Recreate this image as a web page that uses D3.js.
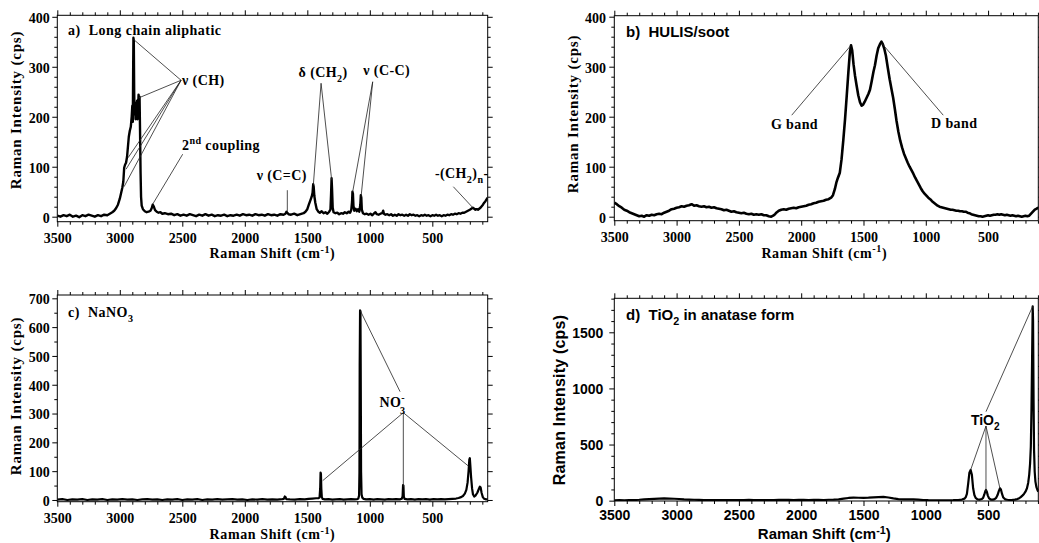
<!DOCTYPE html>
<html>
<head>
<meta charset="utf-8">
<script src="https://cdn.jsdelivr.net/npm/d3@7"></script>
<style>
  html, body { margin: 0; padding: 0; background: #fff; }
  svg { display: block; }
  text { white-space: pre; }
</style>
</head>
<body>
<svg id="chart" width="1039" height="543"></svg>
<script>
// ---------- Data: Raman shift (cm-1) vs intensity (cps) ----------
const shiftTicks = [3500, 3000, 2500, 2000, 1500, 1000, 500];
const aliphaticTicks = [0, 100, 200, 300, 400];
const sootTicks = [0, 100, 200, 300, 400];
const nitrateTicks = [0, 100, 200, 300, 400, 500, 600, 700];
const anataseTicks = [0, 500, 1000, 1500];

// a) long chain aliphatic
const aliphatic = [
[3500,2],[3475,0],[3450,3],[3425,1],[3400,4],[3375,0],[3350,2],[3325,-1],[3300,3],[3275,1],[3250,4],[3225,2],[3200,0],[3175,3],[3150,1],[3125,4],[3100,3],[3080,6],[3060,9],[3045,12],[3030,17],[3015,24],[3000,36],[2990,47],[2980,58],[2972,70],[2965,98],[2958,104],[2950,108],[2942,120],[2935,140],[2928,160],[2920,172],[2912,180],[2905,200],[2900,222],[2896,190],[2893,300],[2891,358],[2888,352],[2885,250],[2882,205],[2878,228],[2874,195],[2870,218],[2866,200],[2862,232],[2858,195],[2854,215],[2850,244],[2846,236],[2842,240],[2838,170],[2834,90],[2830,40],[2825,22],[2815,15],[2800,11],[2785,9],[2770,10],[2755,12],[2745,17],[2737,24],[2728,20],[2718,13],[2705,10],[2690,8],[2675,9],[2660,6],[2640,7],[2615,5],[2590,6],[2565,3],[2540,5],[2515,2],[2490,4],[2465,2],[2440,5],[2415,3],[2390,1],[2365,4],[2340,2],[2315,5],[2290,2],[2265,4],[2240,1],[2215,3],[2190,2],[2165,4],[2140,1],[2115,3],[2090,2],[2065,4],[2040,2],[2015,5],[1990,3],[1965,4],[1940,2],[1915,5],[1890,3],[1865,4],[1840,2],[1815,5],[1790,3],[1765,4],[1740,2],[1715,5],[1690,4],[1675,6],[1667,10],[1660,8],[1650,5],[1630,4],[1605,6],[1580,3],[1555,5],[1530,7],[1515,10],[1500,15],[1488,24],[1475,33],[1465,40],[1458,48],[1453,65],[1449,60],[1444,42],[1436,28],[1425,15],[1412,10],[1400,8],[1385,11],[1370,7],[1355,9],[1340,6],[1325,10],[1315,14],[1310,45],[1306,77],[1302,55],[1297,18],[1290,9],[1275,7],[1260,8],[1245,5],[1230,7],[1215,6],[1200,9],[1185,7],[1170,10],[1158,8],[1148,14],[1142,30],[1139,50],[1135,46],[1131,22],[1124,12],[1114,16],[1104,11],[1094,15],[1084,10],[1076,24],[1072,43],[1068,38],[1064,14],[1055,7],[1040,5],[1025,6],[1010,4],[995,6],[980,3],[965,7],[955,9],[945,5],[930,4],[915,6],[900,7],[893,12],[887,6],[875,4],[860,5],[845,3],[830,5],[815,2],[800,4],[785,2],[770,5],[755,3],[740,4],[725,2],[710,4],[695,2],[680,5],[665,3],[650,4],[635,2],[620,3],[605,1],[590,3],[575,2],[560,4],[545,2],[530,3],[515,1],[500,3],[485,2],[470,4],[455,2],[440,3],[425,1],[410,3],[395,2],[380,4],[365,3],[350,5],[335,4],[320,6],[305,5],[290,7],[275,6],[260,8],[245,8],[230,10],[215,12],[200,14],[188,16],[176,18],[165,16],[155,14],[145,15],[135,14],[125,16],[115,18],[105,21],[95,24],[85,28],[75,31],[65,35],[57,38]
];

// b) HULIS / soot
const soot = [
[3500,28],[3480,25],[3460,21],[3440,18],[3420,14],[3400,12],[3380,9],[3360,7],[3340,5],[3320,3],[3300,1],[3280,2],[3260,0],[3240,3],[3220,2],[3200,4],[3180,3],[3160,5],[3140,6],[3120,5],[3100,8],[3080,10],[3060,12],[3040,15],[3020,16],[3000,18],[2980,19],[2960,21],[2940,20],[2920,22],[2900,23],[2880,25],[2860,22],[2840,23],[2820,21],[2800,20],[2780,21],[2760,19],[2740,20],[2720,18],[2700,19],[2680,17],[2660,16],[2640,15],[2620,13],[2600,14],[2580,12],[2560,10],[2540,11],[2520,9],[2500,8],[2480,7],[2460,8],[2440,6],[2420,5],[2400,6],[2380,4],[2360,5],[2340,4],[2320,5],[2300,3],[2280,3],[2260,1],[2240,0],[2225,2],[2210,5],[2195,9],[2180,12],[2160,14],[2140,15],[2120,14],[2100,16],[2080,17],[2060,18],[2040,17],[2020,19],[2000,20],[1980,21],[1960,22],[1940,24],[1920,25],[1900,27],[1880,28],[1860,30],[1840,31],[1820,32],[1800,34],[1780,35],[1760,38],[1745,43],[1730,55],[1718,68],[1705,78],[1690,88],[1676,115],[1662,153],[1648,195],[1635,240],[1621,290],[1609,330],[1600,343],[1591,333],[1580,305],[1568,282],[1555,262],[1542,243],[1528,229],[1515,222],[1503,224],[1490,230],[1475,238],[1460,246],[1448,254],[1435,270],[1420,290],[1408,303],[1395,322],[1382,337],[1368,345],[1356,350],[1345,345],[1332,335],[1320,322],[1305,298],[1290,275],[1275,255],[1262,238],[1248,215],[1235,192],[1220,170],[1205,152],[1190,138],[1175,126],[1160,117],[1145,108],[1130,100],[1115,93],[1100,86],[1085,78],[1070,71],[1055,64],[1040,57],[1025,51],[1010,46],[995,42],[980,38],[965,35],[950,31],[935,28],[920,25],[905,22],[890,20],[875,19],[860,18],[845,17],[830,16],[815,15],[800,14],[785,14],[770,13],[755,12],[740,12],[725,11],[710,11],[695,10],[680,10],[665,8],[650,7],[635,5],[620,4],[605,3],[590,2],[575,1],[560,1],[545,0],[530,1],[515,2],[500,3],[485,2],[470,3],[455,4],[440,4],[425,5],[410,4],[395,5],[380,4],[365,3],[350,4],[335,3],[320,2],[305,3],[290,2],[275,1],[260,2],[245,1],[230,0],[215,1],[200,2],[185,1],[170,2],[155,6],[140,10],[125,14],[110,16],[97,18]
];

// c) NaNO3
const nitrate = [
[3500,1],[3460,3],[3420,0],[3380,2],[3340,1],[3300,3],[3260,0],[3220,2],[3180,1],[3140,3],[3100,0],[3060,2],[3020,1],[2980,3],[2940,1],[2900,2],[2860,0],[2820,2],[2780,3],[2740,1],[2700,2],[2660,0],[2620,2],[2580,1],[2540,3],[2500,0],[2460,2],[2420,1],[2380,3],[2340,0],[2300,2],[2260,1],[2220,3],[2180,1],[2140,2],[2100,3],[2060,1],[2020,2],[1980,0],[1940,2],[1900,1],[1860,3],[1820,1],[1780,2],[1740,1],[1700,3],[1688,4],[1680,12],[1674,10],[1668,3],[1640,2],[1600,1],[1560,3],[1520,2],[1490,4],[1460,5],[1430,6],[1410,6],[1402,9],[1397,40],[1394,95],[1391,90],[1388,40],[1384,10],[1378,4],[1360,2],[1330,3],[1300,1],[1270,2],[1240,3],[1210,1],[1180,2],[1150,3],[1120,2],[1100,3],[1092,5],[1086,15],[1083,95],[1081,470],[1078,658],[1075,655],[1073,470],[1070,100],[1066,20],[1060,8],[1050,4],[1030,2],[1000,3],[970,1],[940,3],[910,2],[880,1],[850,3],[820,2],[790,3],[760,2],[745,4],[738,12],[734,52],[731,50],[728,12],[722,4],[700,2],[670,3],[640,1],[610,3],[580,2],[550,3],[520,1],[490,3],[460,2],[430,3],[400,2],[370,3],[340,4],[310,5],[290,7],[270,10],[255,14],[240,22],[228,35],[218,60],[210,100],[204,140],[200,145],[196,120],[190,80],[182,40],[175,20],[165,12],[155,15],[140,25],[128,38],[120,46],[114,44],[106,25],[96,10],[85,4],[70,2],[57,2]
];

// d) TiO2 (anatase)
const anatase = [
[3500,2],[3460,4],[3420,3],[3380,5],[3340,6],[3300,8],[3260,11],[3220,14],[3180,16],[3140,18],[3100,20],[3060,19],[3020,17],[2980,15],[2940,12],[2900,10],[2860,8],[2820,7],[2780,6],[2740,5],[2700,6],[2660,4],[2620,5],[2580,6],[2540,4],[2500,5],[2460,6],[2420,7],[2380,6],[2340,5],[2300,4],[2260,6],[2220,5],[2180,7],[2140,8],[2100,7],[2060,6],[2020,8],[1980,7],[1940,6],[1900,8],[1860,7],[1820,6],[1780,8],[1740,9],[1700,12],[1660,18],[1620,24],[1580,27],[1540,26],[1500,25],[1460,27],[1420,30],[1380,32],[1340,33],[1300,28],[1260,20],[1220,14],[1180,12],[1140,11],[1100,12],[1060,10],[1020,6],[980,4],[940,3],[900,2],[860,2],[820,3],[780,4],[740,6],[710,10],[690,18],[680,30],[670,60],[660,150],[650,250],[640,274],[630,230],[620,110],[610,50],[600,25],[585,12],[565,10],[550,15],[540,25],[530,55],[522,85],[517,95],[510,80],[502,45],[492,20],[478,10],[462,9],[448,14],[435,25],[424,50],[414,85],[405,110],[397,100],[388,60],[378,28],[362,12],[345,8],[325,6],[305,7],[285,9],[265,14],[250,22],[238,32],[225,45],[212,60],[200,80],[188,110],[178,160],[170,230],[163,330],[157,480],[152,800],[147,1250],[142,1732],[139,1600],[135,900],[131,450],[126,260],[120,170],[112,120],[104,95],[97,80]
];

// ---------- Drawing ----------
const svg = d3.select('#chart');
const serif = "'Liberation Serif','Times New Roman',serif";
const sans = "'Liberation Sans',Arial,sans-serif";

// Writes a list of text runs (normal / sub / sup) into a <text> element.
function richText(sel, parts, size, supRaise) {
  const raise = supRaise || 0.42;
  let shift = 0;
  parts.forEach(pt => {
    const target = pt.sub ? size * (pt.subDy || 0.36) : pt.sup ? -size * raise : 0;
    const ts = sel.append('tspan').text(pt.t).attr('dy', target - shift);
    if (pt.sub || pt.sup) ts.attr('font-size', size * 0.72);
    if (pt.dx) ts.attr('dx', pt.dx);
    shift = target;
  });
}

function drawPanel(p) {
  const g = svg.append('g');
  const x = d3.scaleLinear().domain(p.xDomain).range([p.left, p.right]);
  const y = d3.scaleLinear().domain(p.yDomain).range([p.bottom, p.top]);

  const xMinor = d3.range(100, 3500, 100).filter(v => v % 500 !== 0 && v >= p.xDomain[1]);
  const yMinor = d3.range(0, p.yDomain[1], p.yMinorStep).filter(v => !p.yTicks.includes(v));

  const addAxis = (gen, transform) => {
    const a = g.append('g').attr('transform', transform).call(gen);
    a.select('.domain').remove();
    a.selectAll('line').attr('stroke', '#000').attr('stroke-width', 1);
    a.selectAll('text')
      .attr('font-family', p.tickFont).attr('font-size', 14)
      .attr('font-weight', 'bold').attr('fill', '#000');
    return a;
  };

  // major ticks with labels (bottom / left)
  addAxis(d3.axisBottom(x).tickValues(shiftTicks).tickSize(5).tickPadding(p.xPad).tickFormat(d3.format('d')),
          `translate(0,${p.bottom})`);
  const yl = addAxis(d3.axisLeft(y).tickValues(p.yTicks).tickSize(5).tickPadding(p.yPad).tickFormat(d3.format('d')),
          `translate(${p.left},0)`);
  yl.selectAll('text').attr('dy', '0.38em');

  // minor ticks bottom / left
  addAxis(d3.axisBottom(x).tickValues(xMinor).tickSize(3).tickFormat(''), `translate(0,${p.bottom})`);
  addAxis(d3.axisLeft(y).tickValues(yMinor).tickSize(3).tickFormat(''), `translate(${p.left},0)`);
  // mirrored ticks top / right
  addAxis(d3.axisTop(x).tickValues(shiftTicks).tickSize(5).tickFormat(''), `translate(0,${p.top})`);
  addAxis(d3.axisTop(x).tickValues(xMinor).tickSize(3).tickFormat(''), `translate(0,${p.top})`);
  addAxis(d3.axisRight(y).tickValues(p.yTicks).tickSize(5).tickFormat(''), `translate(${p.right},0)`);
  addAxis(d3.axisRight(y).tickValues(yMinor).tickSize(3).tickFormat(''), `translate(${p.right},0)`);

  // frame
  g.append('rect')
    .attr('x', p.left).attr('y', p.top)
    .attr('width', p.right - p.left).attr('height', p.bottom - p.top)
    .attr('fill', 'none').attr('stroke', '#000').attr('stroke-width', 1);

  // spectrum
  const clipId = 'clip-' + p.key;
  g.append('clipPath').attr('id', clipId).append('rect')
    .attr('x', p.left).attr('y', p.top - 2)
    .attr('width', p.right - p.left).attr('height', p.bottom - p.top + 2);
  g.append('path')
    .datum(p.series)
    .attr('clip-path', `url(#${clipId})`)
    .attr('d', d3.line().x(d => x(d[0])).y(d => y(d[1])))
    .attr('fill', 'none').attr('stroke', '#000')
    .attr('stroke-width', p.lineWidth).attr('stroke-linejoin', 'round');

  // leader lines for peak assignments
  p.leaders.forEach(l => {
    g.append('line')
      .attr('x1', x(l[0][0])).attr('y1', y(l[0][1]))
      .attr('x2', x(l[1][0])).attr('y2', y(l[1][1]))
      .attr('stroke', '#222').attr('stroke-width', 0.8);
  });

  // peak labels
  p.labels.forEach(lb => {
    const t = g.append('text')
      .attr('x', x(lb.at[0])).attr('y', y(lb.at[1]))
      .attr('text-anchor', lb.anchor || 'start')
      .attr('font-family', p.noteFont).attr('font-weight', 'bold')
      .attr('font-size', 14).attr('letter-spacing', p.noteFont === serif ? 0.4 : 0)
      .attr('fill', '#000');
    richText(t, lb.parts, 14);
  });

  // panel title
  const tt = g.append('text')
    .attr('x', p.title.x).attr('y', p.title.y)
    .attr('font-family', p.titleFont).attr('font-weight', 'bold')
    .attr('font-size', p.title.size).attr('letter-spacing', p.title.spacing)
    .attr('fill', '#000');
  richText(tt, p.title.parts, p.title.size);

  // axis titles
  const xt = g.append('text')
    .attr('x', (p.left + p.right) / 2 + p.xTitleShift).attr('y', p.xTitleY)
    .attr('text-anchor', 'middle')
    .attr('font-family', p.tickFont).attr('font-weight', 'bold')
    .attr('font-size', p.axisSize).attr('letter-spacing', p.axisSpacing)
    .attr('fill', '#000');
  richText(xt, [{t: 'Raman Shift (cm'}, {t: '-1', sup: true}, {t: ')'}], p.axisSize, 0.36);

  g.append('text')
    .attr('transform', `translate(${p.yTitleX},${p.yTitleY}) rotate(-90)`)
    .attr('text-anchor', 'middle')
    .attr('font-family', p.tickFont).attr('font-weight', 'bold')
    .attr('font-size', p.axisSize + 1).attr('letter-spacing', p.axisSpacing + 0.2)
    .attr('fill', '#000')
    .text('Raman Intensity (cps)');
}

const panels = [
  {
    key: 'a', left: 57.3, right: 487.7, top: 15.3, bottom: 221.7,
    xDomain: [3500, 57], yDomain: [-10, 403], yTicks: aliphaticTicks, yMinorStep: 20, yPad: 2.5, xPad: 6,
    series: aliphatic, lineWidth: 2.4,
    tickFont: serif, noteFont: serif, titleFont: serif, axisSize: 14, axisSpacing: 0.6,
    xTitleY: 258, xTitleShift: 0, yTitleX: 20.5, yTitleY: 110,
    title: {x: 68, y: 34.5, size: 14, spacing: 0.5, parts: [{t: 'a)  Long chain aliphatic'}]},
    leaders: [
      [[2510, 273], [2891, 355]], [[2510, 273], [2846, 238]],
      [[2510, 273], [2934, 118]], [[2510, 273], [2950, 95]], [[2510, 273], [2966, 60]],
      [[2497, 125], [2737, 25]],
      [[1660, 53], [1660, 10]],
      [[1390, 267], [1452, 63]], [[1390, 267], [1305, 73]],
      [[977, 270], [1137, 50]], [[977, 270], [1070, 40]],
      [[332, 60], [172, 17]]
    ],
    labels: [
      {at: [2502, 263], parts: [{t: 'ν (CH)'}]},
      {at: [2502, 133], parts: [{t: '2'}, {t: 'nd', sup: true}, {t: ' coupling'}]},
      {at: [1705, 73], anchor: 'middle', parts: [{t: 'ν (C=C)'}]},
      {at: [1374, 280], anchor: 'middle', parts: [{t: 'δ (CH'}, {t: '2', sub: true}, {t: ')'}]},
      {at: [865, 283], anchor: 'middle', parts: [{t: 'ν (C-C)'}]},
      {at: [265, 77], anchor: 'middle', parts: [{t: '-(CH'}, {t: '2', sub: true}, {t: ')'}, {t: 'n', sub: true}, {t: '-'}]}
    ]
  },
  {
    key: 'b', left: 614.3, right: 1038.3, top: 15.7, bottom: 220.7,
    xDomain: [3500, 97], yDomain: [-8, 402], yTicks: sootTicks, yMinorStep: 20, yPad: 3.3, xPad: 6,
    series: soot, lineWidth: 2.6,
    tickFont: serif, noteFont: serif, titleFont: sans, axisSize: 14, axisSpacing: 0.6,
    xTitleY: 257.5, xTitleShift: -2, yTitleX: 578, yTitleY: 114,
    title: {x: 626, y: 36.7, size: 15, spacing: 0, parts: [{t: 'b)  HULIS/soot'}]},
    leaders: [
      [[2076, 203], [1603, 342]],
      [[860, 203], [1354, 347]]
    ],
    labels: [
      {at: [2054, 175], anchor: 'middle', parts: [{t: 'G band'}]},
      {at: [772, 178], anchor: 'middle', parts: [{t: 'D band'}]}
    ]
  },
  {
    key: 'c', left: 57.3, right: 487.7, top: 295, bottom: 501.7,
    xDomain: [3500, 57], yDomain: [-6, 711.5], yTicks: nitrateTicks, yMinorStep: 50, yPad: 2.5, xPad: 6,
    series: nitrate, lineWidth: 2.2,
    tickFont: serif, noteFont: serif, titleFont: serif, axisSize: 14, axisSpacing: 0.6,
    xTitleY: 539, xTitleShift: 0, yTitleX: 21, yTitleY: 396,
    title: {x: 68, y: 316.7, size: 14, spacing: 0.5, parts: [{t: 'c)  NaNO'}, {t: '3', sub: true}]},
    leaders: [
      [[758, 376], [1076, 657]],
      [[732, 303], [1377, 67]], [[732, 303], [732, 46]], [[732, 303], [212, 118]]
    ],
    labels: [
      {at: [923, 322], parts: [{t: 'NO'}, {t: '-', sup: true}, {t: '3', sub: true, subDy: 0.45, dx: -5}]}
    ]
  },
  {
    key: 'd', left: 614.3, right: 1038.3, top: 298.3, bottom: 501,
    xDomain: [3500, 97], yDomain: [-3, 1803], yTicks: anataseTicks, yMinorStep: 100, yPad: 6, xPad: 4.5,
    series: anatase, lineWidth: 2.2,
    tickFont: sans, noteFont: sans, titleFont: sans, axisSize: 15, axisSpacing: 0,
    xTitleY: 539, xTitleShift: -2, yTitleX: 565, yTitleY: 400,
    title: {x: 626, y: 320, size: 15, spacing: 0, parts: [{t: 'd)  TiO'}, {t: '2', sub: true}, {t: ' in anatase form'}]},
    leaders: [
      [[517, 793], [142, 1732]],
      [[517, 665], [640, 274]], [[517, 665], [517, 80]], [[517, 665], [405, 110]]
    ],
    labels: [
      {at: [638, 674], parts: [{t: 'TiO'}, {t: '2', sub: true}]}
    ]
  }
];

panels.forEach(drawPanel);
</script>
</body>
</html>
